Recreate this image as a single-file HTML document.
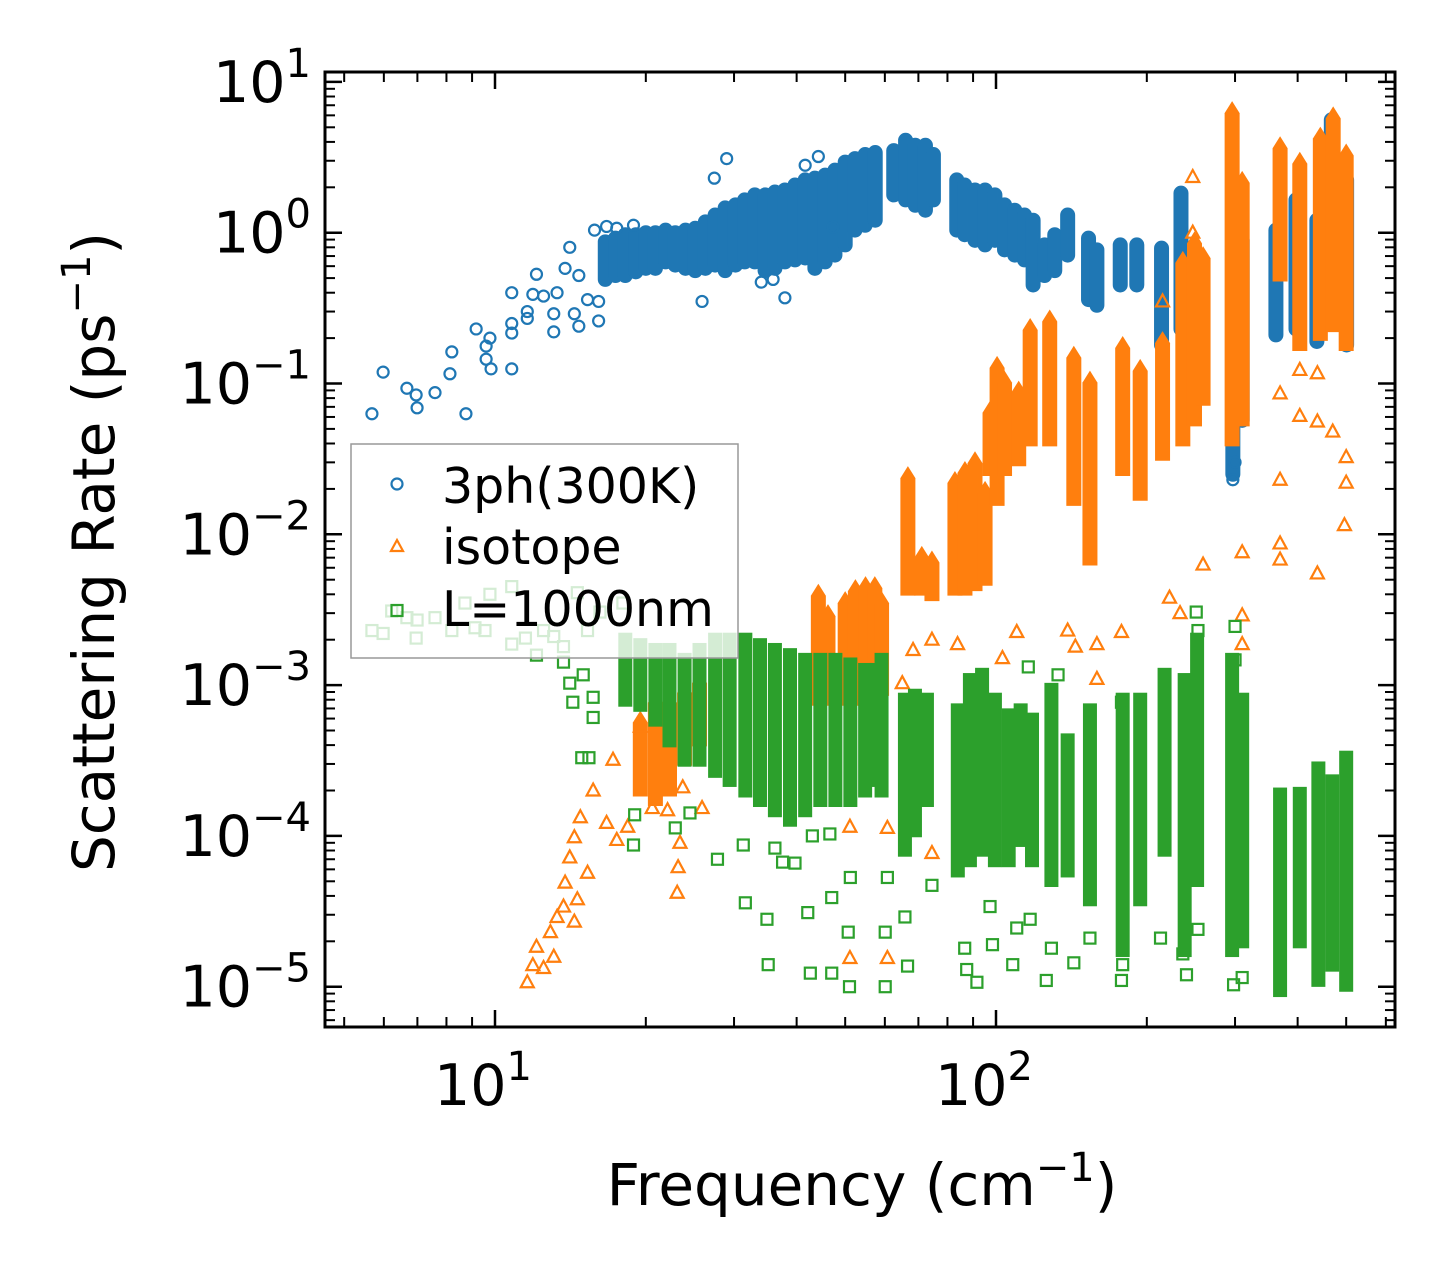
<!DOCTYPE html>
<html><head><meta charset="utf-8"><style>
html,body{margin:0;padding:0;background:#fff}
svg{display:block;font-family:"DejaVu Sans","Liberation Sans",sans-serif}
</style></head><body>
<svg id="chart" width="1455" height="1278" viewBox="0 0 1455 1278" xmlns="http://www.w3.org/2000/svg">
<rect width="1455" height="1278" fill="#fff"/>
<g id="marks"></g>
<g id="axes"></g>
<text transform="translate(114,552) rotate(-90)" text-anchor="middle" font-size="58">Scattering Rate (ps<tspan dy="-24" font-size="40">−1</tspan><tspan dy="24">)</tspan></text>
<text x="862" y="1205" text-anchor="middle" font-size="58">Frequency (cm<tspan dy="-24" font-size="40">−1</tspan><tspan dy="24">)</tspan></text>
<g>
<rect x="351" y="444" width="387" height="214" fill="rgba(255,255,255,0.8)" stroke="#999" stroke-width="1.5"/>
<circle cx="397" cy="484" r="5.5" fill="none" stroke="#1f77b4" stroke-width="2.2"/>
<text x="442" y="503" font-size="49">3ph(300K)</text>
<polygon points="397,540 391,551 403,551" fill="none" stroke="#ff7f0e" stroke-width="2.2"/>
<text x="442" y="564" font-size="49">isotope</text>
<rect x="391.5" y="605" width="11" height="11" fill="none" stroke="#2ca02c" stroke-width="2.2"/>
<text x="442" y="626" font-size="49">L=1000nm</text>
</g>
</svg>
<script>
// ---- data ----
const blueBands=[[16.6,0.49,0.87],[17.4,0.52,0.92],[18.2,0.52,0.97],[19.1,0.55,0.97],[20.0,0.58,1.0],[20.9,0.58,1.0],[21.9,0.64,1.04],[22.9,0.61,1.0],[24.0,0.58,1.04],[25.1,0.56,1.07],[26.3,0.58,1.18],[27.5,0.61,1.31],[28.8,0.56,1.46],[30.2,0.61,1.53],[31.5,0.64,1.65],[33.0,0.64,1.78],[34.6,0.56,1.78],[36.2,0.58,1.86],[37.9,0.64,1.92],[39.7,0.66,2.07],[41.6,0.68,2.24],[43.5,0.58,2.30],[45.6,0.64,2.41],[47.7,0.71,2.6],[50.0,0.83,2.94],[52.3,1.04,3.1],[54.8,1.12,3.3],[57.4,1.21,3.4],
[62.5,1.78,3.5],[66.0,1.65,4.1],[69.0,1.52,3.8],[72.3,1.41,3.8],[75.0,1.65,3.3],[83.5,1.04,2.24],[86.6,0.97,2.07],[90.8,0.89,1.92],[95.1,0.83,1.92],[99.5,0.89,1.78],[104,0.77,1.53],[109,0.71,1.41],[114,0.66,1.31],[118.6,0.45,1.21],[125,0.52,0.83],[131,0.56,0.97],[139,0.71,1.31],[153,0.36,0.92],[159,0.33,0.77],[177,0.45,0.83],[191,0.45,0.83],[214,0.18,0.79],[234,0.23,1.83],[297,0.025,1.9],[310,0.057,0.89],[362,0.21,1.04],[397,0.23,1.65],[437,0.19,1.21],[467,0.31,5.6],[501,0.18,2.24]];
const bluePoints=[[5.68,0.063],[5.98,0.119],[6.67,0.093],[6.96,0.084],[6.99,0.069],[7.59,0.087],[8.2,0.162],[8.13,0.116],[8.75,0.063],[9.17,0.23],[9.6,0.177],[9.77,0.20],[9.6,0.145],[9.82,0.125],[10.8,0.25],[10.8,0.216],[10.8,0.125],[10.8,0.40],[11.6,0.30],[11.6,0.27],[11.9,0.39],[12.1,0.53],[12.5,0.38],[13.1,0.22],[13.1,0.29],[13.3,0.40],[13.8,0.58],[14.4,0.29],[14.7,0.24],[16.1,0.26],[16.1,0.35],[14.7,0.52],[15.3,0.36],[14.1,0.80],[15.8,1.04],[16.7,1.1],[17.5,1.07],[18.9,1.12],[25.9,0.35],[37.9,0.37],[29.0,3.1],[27.4,2.3],[34.0,0.47],[35.9,0.49],[47.3,1.09],[41.6,2.8],[44.2,3.2],[297,0.023],[300,0.03]];
const orangeBands=[[19.5,2.0e-4,5.9e-4],[20.9,1.73e-4,8.0e-4],[22.3,2.0e-4,8.0e-4],[23.9,3.2e-4,9.3e-4],[25.6,4.3e-4,1.08e-3],[44.2,8e-4,4.1e-3],[46.2,8e-4,3.0e-3],[50.0,8e-4,3.66e-3],[52.4,8e-4,4.4e-3],[54.9,8e-4,4.6e-3],[57.3,9.3e-4,4.6e-3],[59.1,9.3e-4,3.66e-3],
[66.7,4.3e-3,0.0247],[71.1,4.3e-3,7.3e-3],[74.5,3.95e-3,6.8e-3],[82.8,4.3e-3,0.0229],[86.7,4.3e-3,0.0267],[90.8,4.6e-3,0.031],[95.1,5.0e-3,0.0197],[97.3,0.0267,0.067],[100.5,0.0169,0.133],[104,0.0267,0.106],[111,0.031,0.091],[117,0.042,0.237],[128,0.042,0.27],[143,0.0169,0.155],[154,6.8e-3,0.106],[179,0.0267,0.18],[194,0.0183,0.127],[215,0.0337,0.194],[236,0.042,0.66],[249,0.057,0.89],[259,0.078,0.71],[296,0.042,6.5],[310,0.057,2.24],[369,0.52,3.8],[404,0.18,3.0],[444,0.21,4.4],[471,0.24,6.0],[500,0.18,3.4]];
const orangePoints=[[11.6,1.07e-5],[11.9,1.39e-5],[12.5,1.33e-5],[13.1,1.58e-5],[12.1,1.84e-5],[12.9,2.3e-5],[13.3,2.9e-5],[13.7,3.4e-5],[13.8,4.9e-5],[14.4,2.7e-5],[14.6,3.8e-5],[15.3,5.7e-5],[14.1,7.2e-5],[14.4,9.8e-5],[14.8,1.33e-4],[15.7,2.0e-4],[16.7,1.22e-4],[17.2,3.2e-4],[18.4,1.15e-4],[17.5,9.4e-5],[19.5,5.3e-4],[20.6,1.53e-4],[22.1,1.48e-4],[23.1,4.2e-5],[23.2,6.2e-5],[23.4,9.0e-5],[23.7,2.1e-4],[25.9,1.53e-4],[51.1,1.15e-4],[51.1,1.55e-5],[60.7,1.13e-4],[60.7,1.55e-5],[74.5,7.7e-5],[65.0,1.03e-3],[68.3,1.71e-3],[74.5,2.0e-3],[83.8,1.87e-3],[103,1.51e-3],[110,2.25e-3],[139,2.3e-3],[144,1.8e-3],[159,1.87e-3],[159,1.1e-3],[178,2.25e-3],[222,3.8e-3],[233,3.0e-3],[259,6.3e-3],[310,2.9e-3],[310,1.87e-3],[369,6.8e-3],[438,5.5e-3],[310,7.6e-3],[369,8.7e-3],[496,0.0115],[500,0.022],[369,0.023],[500,0.0325],[470,0.048],[438,0.056],[404,0.061],[438,0.117],[404,0.123],[369,0.086],[215,0.35],[247,1.0],[247,2.34]];
const greenBands=[[18.2,8.0e-4,2.0e-3],[19.5,7.4e-4,1.84e-3],[20.9,5.9e-4,1.71e-3],[22.3,4.3e-4,1.71e-3],[23.9,3.2e-4,1.47e-3],[25.6,3.2e-4,1.71e-3],[27.5,2.7e-4,2.0e-3],[29.4,2.35e-4,2.0e-3],[31.6,2.0e-4,2.0e-3],[33.8,1.73e-4,1.84e-3],[36.2,1.48e-4,1.71e-3],[38.8,1.28e-4,1.58e-3],[41.6,1.48e-4,1.47e-3],[44.6,1.73e-4,1.47e-3],[47.8,1.73e-4,1.47e-3],[51.2,1.73e-4,1.37e-3],[54.8,2.0e-4,1.26e-3],[57.8,2.35e-4,1.26e-3],
[59.1,2.0e-4,1.47e-3],[65.8,8.1e-5,8.0e-4],[68.9,1.09e-4,8.5e-4],[72.8,1.73e-4,8.0e-4],[83.9,5.9e-5,6.8e-4],[88.7,6.9e-5,1.08e-3],[93.8,8.1e-5,1.17e-3],[99.5,6.9e-5,8e-4],[106,6.9e-5,6.3e-4],[112,9.4e-5,6.8e-4],[118,6.9e-5,5.9e-4],[129,5.1e-5,9.3e-4],[139,5.9e-5,4.3e-4],[154,3.8e-5,6.8e-4],[179,1.75e-5,8e-4],[194,3.8e-5,8e-4],[217,8.1e-5,1.17e-3],[238,1.75e-5,1.08e-3],[252,5.1e-5,2.0e-3],[296,1.75e-5,1.47e-3],[310,2.0e-5,8e-4],[369,9.5e-6,1.88e-4],[404,2.0e-5,1.9e-4],[440,1.11e-5,2.8e-4],[469,1.4e-5,2.3e-4],[500,1.03e-5,3.3e-4]];
const greenPoints=[[5.68,2.3e-3],[5.98,2.2e-3],[6.22,3.1e-3],[6.67,2.8e-3],[6.99,2.7e-3],[6.96,2.05e-3],[7.59,2.8e-3],[8.2,2.3e-3],[8.71,3.5e-3],[9.12,2.4e-3],[9.55,2.3e-3],[9.77,4.0e-3],[10.8,4.5e-3],[10.8,1.87e-3],[11.5,2.05e-3],[12.1,1.58e-3],[12.5,2.3e-3],[13.1,2.1e-3],[13.7,1.8e-3],[14.6,4.1e-3],[15.3,2.3e-3],[16.2,3.05e-3],[18.0,3.5e-3],[13.7,1.42e-3],[14.1,1.03e-3],[14.3,7.7e-4],[15.7,6.1e-4],[15.7,8.3e-4],[15.0,1.17e-3],[14.9,3.3e-4],[15.4,3.3e-4],[18.9,8.7e-5],[19.0,1.38e-4],[24.5,1.42e-4],[22.9,1.13e-4],[31.3,8.7e-5],[36.2,8.3e-5],[27.8,7.0e-5],[37.5,6.7e-5],[39.7,6.6e-5],[43.0,1.0e-4],[46.6,1.03e-4],[31.6,3.6e-5],[34.9,2.8e-5],[42.1,3.1e-5],[47.0,3.9e-5],[51.2,5.3e-5],[50.7,2.3e-5],[35.1,1.4e-5],[42.6,1.23e-5],[47.0,1.23e-5],[51.0,1.0e-5],
[251,3.05e-3],[253,2.3e-3],[300,2.45e-3],[300,1.47e-3],[116,1.32e-3],[133,1.17e-3],[178,7.7e-4],[60.7,5.3e-5],[60.1,2.3e-5],[60.1,1.0e-5],[65.8,2.9e-5],[66.6,1.37e-5],[74.5,4.7e-5],[87.4,1.3e-5],[91.6,1.07e-5],[97.3,3.4e-5],[110,2.45e-5],[117,2.8e-5],[108,1.4e-5],[126,1.1e-5],[143,1.44e-5],[154,2.1e-5],[178,1.1e-5],[179,1.4e-5],[213,2.1e-5],[236,1.65e-5],[240,1.2e-5],[298,1.03e-5],[310,1.15e-5],[253,2.4e-5],[129,1.8e-5],[98.4,1.9e-5],[86.6,1.8e-5]];
const yMajorTicks=[1e-5,1e-4,1e-3,1e-2,1e-1,1,10];
const yTickExps=["−5","−4","−3","−2","−1","0","1"];
const xMajorTicks=[10,100];
const xTickExps=["1","2"];

// ---- scales ----
const L=325,R=1395,T=72,B=1027;
const X0=495,XD=501, Y0=232.7, YD=150.8;
function xs(f){return X0+(Math.log10(f)-1)*XD;}
function ys(r){return Y0-Math.log10(r)*YD;}
const NS="http://www.w3.org/2000/svg";
const marks=document.getElementById('marks');
const axes=document.getElementById('axes');
function mk(tag,attrs,parent){const e=document.createElementNS(NS,tag);for(const k in attrs)e.setAttribute(k,attrs[k]);parent.appendChild(e);return e;}

const clip=mk('clipPath',{id:'pc'},marks);mk('rect',{x:L,y:T,width:R-L,height:B-T},clip);
const gB=mk('g',{'clip-path':'url(#pc)'},marks);
const gO=mk('g',{'clip-path':'url(#pc)'},marks);
const gG=mk('g',{'clip-path':'url(#pc)'},marks);

const C1="#1f77b4",C2="#ff7f0e",C3="#2ca02c";
blueBands.forEach(b=>{const x=xs(b[0]),y1=ys(b[2]),y2=ys(b[1]);
 const e=mk('rect',{x:x-7.5,y:y1-7.5,width:15,height:y2-y1+15,rx:7.5,fill:C1},gB);
 
 });
bluePoints.forEach(p=>{const e=mk('circle',{cx:xs(p[0]),cy:ys(p[1]),r:5.5,fill:'none',stroke:C1,'stroke-width':2.2},gB);
 
 });
orangeBands.forEach(b=>{const x=xs(b[0]),y1=ys(b[2]),y2=ys(b[1]);
 const e=mk('path',{d:`M${x},${y1-9}L${x+7.5},${y1+3}L${x+7.5},${y2+6}L${x-7.5},${y2+6}L${x-7.5},${y1+3}Z`,fill:C2},gO);
 
 });
orangePoints.forEach(p=>{const x=xs(p[0]),y=ys(p[1]);
 const e=mk('polygon',{points:`${x},${y-7} ${x-6.5},${y+5} ${x+6.5},${y+5}`,fill:'none',stroke:C2,'stroke-width':2.2},gO);
 
 });
greenBands.forEach(b=>{const x=xs(b[0]),y1=ys(b[2]),y2=ys(b[1]);
 const e=mk('rect',{x:x-7,y:y1-7,width:14,height:y2-y1+14,fill:C3},gG);
 
 });
greenPoints.forEach(p=>{const x=xs(p[0]),y=ys(p[1]);
 const e=mk('rect',{x:x-5.5,y:y-5.5,width:11,height:11,fill:'none',stroke:C3,'stroke-width':2.2},gG);
 
 });

// ---- axes ----
const frame=mk('rect',{x:L,y:T,width:R-L,height:B-T,fill:'none',stroke:'#000','stroke-width':3},axes);


function tick(x1,y1,x2,y2,w){mk('line',{x1,y1,x2,y2,stroke:'#000','stroke-width':w},axes);}
for(let d=0;d<=2;d++){for(let m=1;m<=9;m++){const f=m*Math.pow(10,d);const x=xs(f);if(x<L||x>R)continue;
 const len=(m===1)?17:10,w=(m===1)?2.5:2;tick(x,B,x,B-len,w);tick(x,T,x,T+len,w);}}
for(let d=-6;d<=1;d++){for(let m=1;m<=9;m++){const r=m*Math.pow(10,d);const y=ys(r);if(y<T||y>B)continue;
 const len=(m===1)?17:10,w=(m===1)?2.5:2;tick(L,y,L+len,y,w);tick(R,y,R-len,y,w);}}
xMajorTicks.forEach((f,i)=>{const t=mk('text',{x:xs(f)-12,y:1105,'text-anchor':'middle','font-size':57},axes);
 
 
 t.textContent='10';const s=mk('tspan',{dy:-25,'font-size':40},t);s.textContent=xTickExps[i];});
yMajorTicks.forEach((r,i)=>{const t=mk('text',{x:311,y:ys(r)+20,'text-anchor':'end','font-size':57},axes);
 
 
 t.textContent='10';const s=mk('tspan',{dy:-25,'font-size':40},t);s.textContent=yTickExps[i];});
</script>
</body></html>
